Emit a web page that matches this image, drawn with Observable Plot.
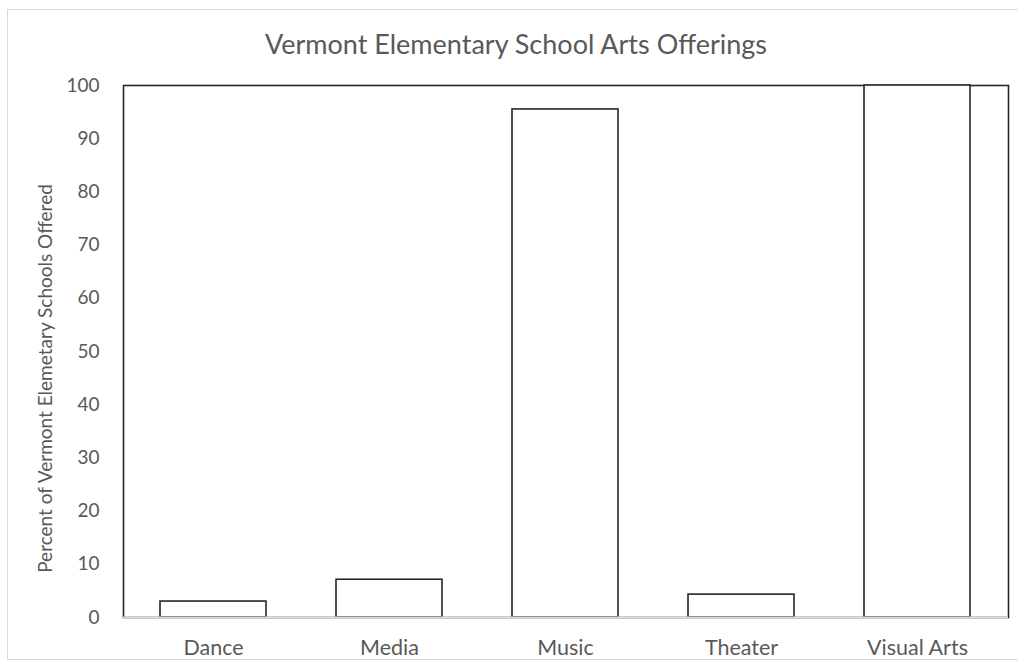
<!DOCTYPE html>
<html>
<head>
<meta charset="utf-8">
<script src="https://cdn.jsdelivr.net/npm/d3@7"></script>
<script src="https://cdn.jsdelivr.net/npm/@observablehq/plot@0.6"></script>
<style>
  html, body { margin: 0; padding: 0; background: #fff; }
  #wrap { position: relative; width: 1018px; height: 667px; overflow: hidden; background: #fff; }
  #border { position: absolute; left: 7px; top: 9px; width: 1030px; height: 651px; border: 1px solid #d9d9d9; box-sizing: border-box; }
  #title { position: absolute; left: 0; width: 1032px; top: 27px; text-align: center; font-family: Lato, sans-serif; font-size: 27px; color: #595959; }
  #chart { position: absolute; left: 0; top: 0; }
  #chart svg g[aria-label="x-axis tick label"] text { font-size: 21.5px; }
</style>
</head>
<body>
<div id="wrap">
  <div id="border"></div>
  <div id="title">Vermont Elementary School Arts Offerings</div>
  <div id="chart"></div>
</div>
<script>
const categories = ["Dance", "Media", "Music", "Theater", "Visual Arts"];
const values = [3.0, 7.1, 95.5, 4.3, 100];
const yTicks = [0, 10, 20, 30, 40, 50, 60, 70, 80, 90, 100];
const yLabel = "Percent of Vermont Elemetary Schools Offered";

const data = categories.map((c, i) => ({category: c, value: values[i]}));

const plot = Plot.plot({
  width: 1018,
  height: 667,
  marginLeft: 123,
  marginRight: 10,
  marginTop: 85,
  marginBottom: 50,
  style: {fontFamily: "Lato, sans-serif", fontSize: "19px", color: "#595959", background: "transparent", overflow: "visible"},
  x: {domain: categories, paddingInner: 0.395, paddingOuter: 0.198, label: null, tickSize: 0, tickPadding: 22},
  y: {domain: [0, 100], ticks: yTicks, label: null, tickSize: 0, tickPadding: 24},
  marks: [
    Plot.frame({stroke: "#262626", strokeWidth: 1.6}),
    Plot.barY(data, {x: "category", y: "value", fill: "white", stroke: "#262626", strokeWidth: 1.6}),
    Plot.ruleY([0], {stroke: "#d9d9d9", strokeWidth: 2}),
    Plot.text([yLabel], {frameAnchor: "left", textAnchor: "middle", dx: -78, dy: 27, rotate: -90, fontSize: 19, fill: "#595959"})
  ]
});
document.getElementById("chart").appendChild(plot);
</script>
</body>
</html>
